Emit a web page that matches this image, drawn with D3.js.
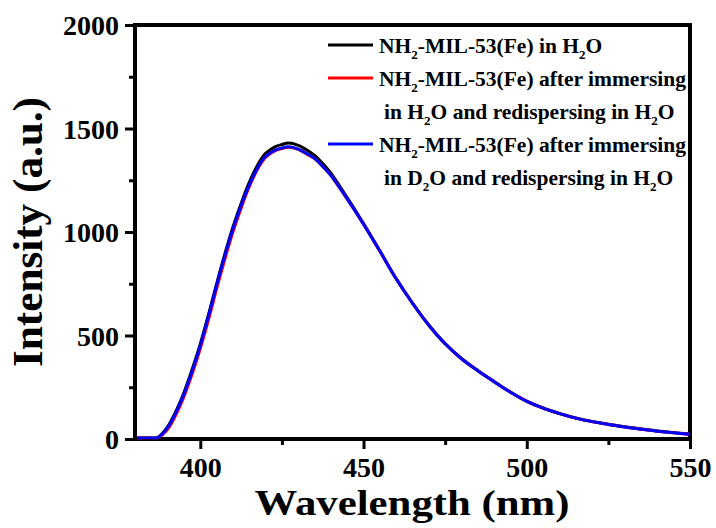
<!DOCTYPE html>
<html>
<head>
<meta charset="utf-8">
<script src="https://cdn.jsdelivr.net/npm/d3@7"></script>
<style>
  html, body { margin: 0; padding: 0; background: #fff; }
  svg { display: block; }
</style>
</head>
<body>
<script>
// ---- data ----
const wavelengths = [380, 385, 387, 390, 393, 395, 398, 400, 403, 405, 408, 410, 413, 415, 418, 420, 423, 425, 427, 430, 433, 435, 438, 440, 445, 450, 455, 460, 465, 470, 475, 480, 485, 490, 495, 500, 505, 510, 515, 520, 525, 530, 535, 540, 545, 550];
const blackH2O = [0, 0, 3, 55, 145, 220, 355, 455, 625, 745, 916, 1020, 1155, 1235, 1331, 1375, 1408, 1418, 1425, 1414, 1388, 1365, 1317, 1279, 1161, 1036, 904, 770, 652, 546, 456, 384, 326, 273, 222, 178, 145, 119, 97, 80, 66, 54, 43, 34, 26, 19];
const redH2O =   [0, 0, 1, 42, 128, 200, 332, 432, 600, 720, 890, 995, 1132, 1214, 1312, 1356, 1388, 1398, 1404, 1394, 1369, 1350, 1304, 1268, 1155, 1033, 903, 769, 651, 545, 455, 383, 325, 272, 221, 177, 144, 118, 96, 79, 65, 53, 42, 33, 25, 18];
const blueD2O =  [0, 0, 2, 50, 138, 212, 347, 447, 617, 737, 907, 1010, 1144, 1222, 1317, 1360, 1391, 1401, 1407, 1396, 1370, 1351, 1304, 1269, 1155, 1033, 903, 769, 651, 545, 455, 383, 325, 272, 221, 177, 144, 118, 96, 79, 65, 53, 42, 33, 25, 18];

const seriesColors = ["#000000", "#ff0000", "#0000ff"];
const seriesValues = [blackH2O, redH2O, blueD2O];

const xTicks = [400, 450, 500, 550];
const xMinorTicks = [425, 475, 525];
const yTicks = [0, 500, 1000, 1500, 2000];
const yMinorTicks = [250, 750, 1250, 1750];

const xTitle = "Wavelength (nm)";
const yTitle = "Intensity (a.u.)";

// legend rows: segments, second item 1 = subscript
const legendRows = [
  { color: 0, segs: [["NH"], ["2", 1], ["-MIL-53(Fe) in H"], ["2", 1], ["O"]] },
  { color: 1, segs: [["NH"], ["2", 1], ["-MIL-53(Fe) after immersing"]] },
  { color: null, segs: [["in H"], ["2", 1], ["O and redispersing in H"], ["2", 1], ["O"]] },
  { color: 2, segs: [["NH"], ["2", 1], ["-MIL-53(Fe) after immersing"]] },
  { color: null, segs: [["in D"], ["2", 1], ["O and redispersing in H"], ["2", 1], ["O"]] }
];

const FONT = '"Liberation Serif", "Times New Roman", Tinos, "DejaVu Serif", "Noto Serif", serif';

// ---- layout ----
const W = 716, H = 528;
const L = 135, R = 690, T = 25, B = 439;

const svg = d3.select("body").append("svg").attr("width", W).attr("height", H);

const x = d3.scaleLinear().domain([380, 550]).range([L, R]);
const y = d3.scaleLinear().domain([0, 2000]).range([B, T]);

// axes
function styleAxis(sel) {
  sel.attr("font-family", null);
  sel.selectAll(".domain").remove();
  sel.selectAll("line").attr("stroke", "#000").attr("stroke-width", 3);
  sel.selectAll("text").style("font-size", "28px");
}

const xAxis = svg.append("g").attr("transform", `translate(0,${B})`)
  .call(d3.axisBottom(x).tickValues(xTicks).tickSize(10).tickPadding(10).tickFormat(d3.format("d")));
styleAxis(xAxis);
xAxis.selectAll("text").attr("dy", null).attr("y", 38);

const xMinor = svg.append("g").attr("transform", `translate(0,${B})`)
  .call(d3.axisBottom(x).tickValues(xMinorTicks).tickSize(6).tickFormat(""));
styleAxis(xMinor);

const yAxis = svg.append("g").attr("transform", `translate(${L},0)`)
  .call(d3.axisLeft(y).tickValues(yTicks).tickSize(10).tickPadding(6).tickFormat(d3.format("d")));
styleAxis(yAxis);
yAxis.selectAll("text").attr("dy", "0.34em");

const yMinor = svg.append("g").attr("transform", `translate(${L},0)`)
  .call(d3.axisLeft(y).tickValues(yMinorTicks).tickSize(6).tickFormat(""));
styleAxis(yMinor);

// frame
svg.append("rect")
  .attr("x", L).attr("y", T).attr("width", R - L).attr("height", B - T)
  .attr("fill", "none").attr("stroke", "#000").attr("stroke-width", 4);

// curves (drawn over the frame, clipped to the plot area)
svg.append("clipPath").attr("id", "clip")
  .append("rect").attr("x", L + 2).attr("y", T).attr("width", R - L - 1).attr("height", B - T + 0.5);

const line = d3.line()
  .x((d, i) => x(wavelengths[i]))
  .y(d => y(d) - 1)
  .curve(d3.curveCatmullRom.alpha(0.5));

const g = svg.append("g").attr("clip-path", "url(#clip)");
seriesValues.forEach((vals, k) => {
  g.append("path")
    .datum(vals)
    .attr("d", line)
    .attr("fill", "none")
    .attr("stroke", seriesColors[k])
    .attr("stroke-width", 3)
    .attr("stroke-linejoin", "round");
});

// titles
svg.append("text")
  .attr("x", 412).attr("y", 515)
  .attr("text-anchor", "middle")
  .style("font-size", "36px")
  .attr("textLength", 315).attr("lengthAdjust", "spacingAndGlyphs")
  .text(xTitle);

svg.append("text")
  .attr("transform", `translate(42,232) rotate(-90)`)
  .attr("text-anchor", "middle")
  .style("font-size", "43px")
  .attr("textLength", 270).attr("lengthAdjust", "spacingAndGlyphs")
  .text(yTitle);

// legend
const legBase0 = 53, legStep = 33;
legendRows.forEach((row, i) => {
  const by = legBase0 + i * legStep;
  if (row.color !== null) {
    svg.append("line")
      .attr("x1", 328).attr("x2", 373)
      .attr("y1", by - 8).attr("y2", by - 8)
      .attr("stroke", seriesColors[row.color]).attr("stroke-width", 3);
  }
  const t = svg.append("text")
    .attr("x", row.color !== null ? 379 : 384)
    .attr("y", by)
    .style("font-size", "21.5px");
  let shifted = false;
  row.segs.forEach(s => {
    const ts = t.append("tspan").text(s[0]);
    if (s[1]) {
      ts.attr("dy", 6).style("font-size", "13px");
      shifted = true;
    } else if (shifted) {
      ts.attr("dy", -6);
      shifted = false;
    }
  });
});

svg.selectAll("text")
  .style("font-family", FONT)
  .style("font-weight", "bold")
  .style("fill", "#000");
</script>
</body>
</html>
